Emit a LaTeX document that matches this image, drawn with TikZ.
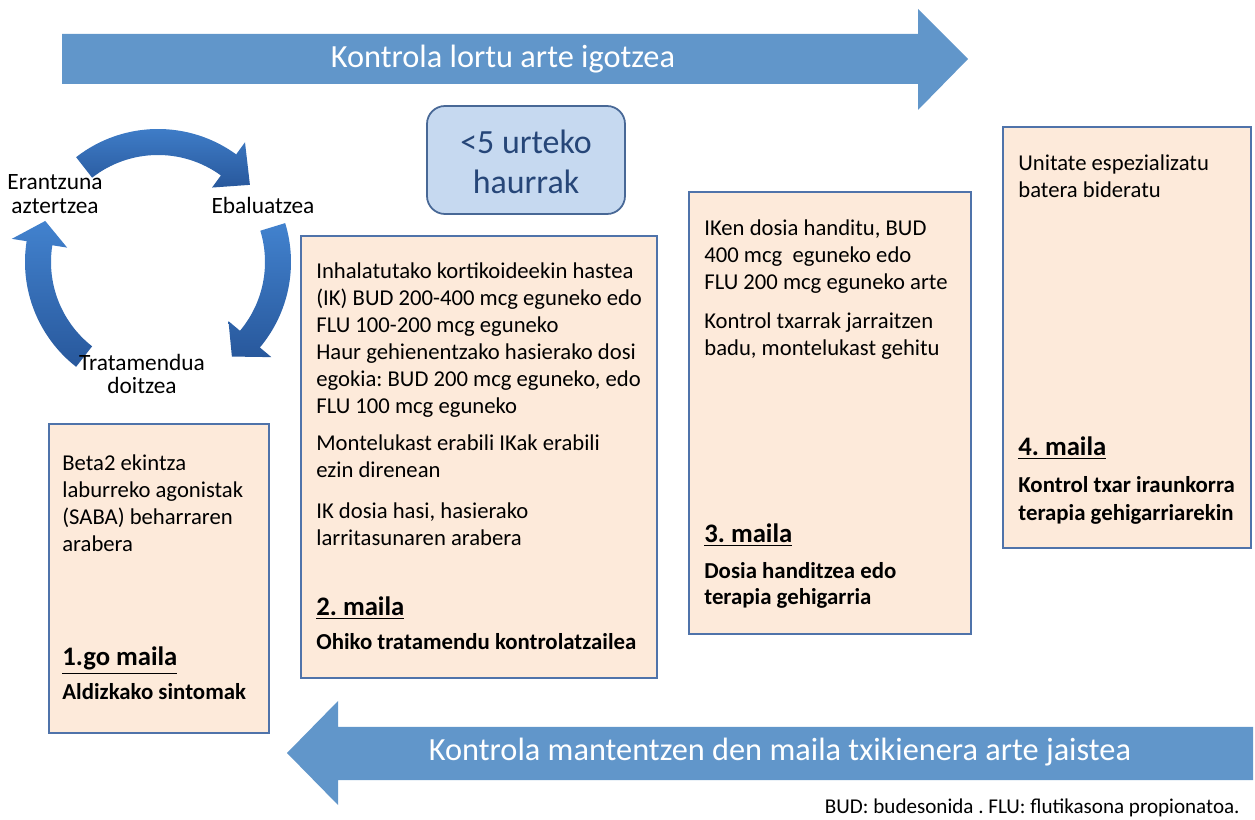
\documentclass[tikz,border=0pt]{standalone}
\usepackage{fontspec}
\setmainfont{Carlito}
\frenchspacing
\usetikzlibrary{positioning}

\definecolor{arrowblue}{RGB}{97,150,202}
\definecolor{boxfill}{RGB}{253,234,218}
\definecolor{boxline}{RGB}{79,115,170}
\definecolor{capsfill}{RGB}{198,217,240}
\definecolor{capsline}{RGB}{72,104,150}
\definecolor{capstext}{RGB}{38,70,120}
\definecolor{cyclight}{RGB}{66,130,206}
\definecolor{cycdark}{RGB}{40,88,156}

\tikzset{
  mailabox/.style={draw=boxline, fill=boxfill, line width=1pt},
  bodytxt/.style={anchor=base west, align=left, inner sep=0pt, font=\fontsize{12.9}{15.45}\selectfont},
  mailatitle/.style={anchor=base west, inner sep=0pt, font=\fontsize{15.2}{18}\selectfont\bfseries},
  mailasub/.style={anchor=base west, align=left, inner sep=0pt, font=\fontsize{13}{14.8}\selectfont\bfseries},
  bandtxt/.style={text=white, inner sep=0pt, font=\fontsize{18.4}{22}\selectfont},
  cyctxt/.style={align=center, inner sep=0pt, font=\fontsize{13.3}{13.4}\selectfont},
}

% curved arrow of the cycle: start angle, head base angle, tip angle
\newcommand{\cycarrow}[3]{%
  \shade[top color=cyclight, bottom color=cycdark]
    (#1:133) arc[start angle=#1, end angle=#2, radius=133] -- (#2:148) -- (#3:120)
    -- (#2:92) -- (#2:107) arc[start angle=#2, end angle=#1, radius=107] -- cycle;}

\begin{document}
\begin{tikzpicture}[x=0.02cm, y=-0.02cm]
    \useasboundingbox (0,0) rectangle (1255,820);

    % top band arrow
    \fill[arrowblue] (62,34) -- (918,34) -- (918,9) -- (968,59) -- (918,110) -- (918,84) -- (62,84) -- cycle;
    \node[bandtxt] (igo) at (503,59) {Kontrola lortu arte igotzea};

    % bottom band arrow
    \fill[arrowblue] (1253,727) -- (338,727) -- (338,701) -- (287,753) -- (338,805) -- (338,780) -- (1253,780) -- cycle;
    \node[bandtxt] (jaitsi) at (780,752) {Kontrola mantentzen den maila txikienera arte jaistea};

    % cycle of three curved arrows
    \begin{scope}[shift={(158,262)}, y=0.02cm]
      \cycarrow{128}{54}{40}
      \cycarrow{17}{-40}{-52}
      \cycarrow{232}{171}{160}
    \end{scope}
    \node[cyctxt] (ebal) at (263,205) {Ebaluatzea};
    \node[cyctxt] (trat) at (142,374) {Tratamendua\\doitzea};
    \node[cyctxt] (eran) at (55,194) {Erantzuna\\aztertzea};

    % age box
    \draw[draw=capsline, fill=capsfill, line width=1pt, rounded corners=0.36cm] (427,106) rectangle (625,214);
    \node[text=capstext, align=center, inner sep=0pt, font=\fontsize{19.3}{23}\selectfont] (adina) at (526,162) {<5 urteko\\haurrak};

    % step 1 (base of a text = its last line)
    \draw[mailabox] (49,424) rectangle (269,733);
    \node[bodytxt] (m1a) at (62,552) {Beta2 ekintza\\laburreko agonistak\\(SABA) beharraren\\arabera};
    \node[mailatitle] (m1t) at (62,666) {\underline{1.go maila}};
    \node[mailasub] (m1s) at (62,700) {Aldizkako sintomak};

    % step 2
    \draw[mailabox] (301,236) rectangle (657,678);
    \node[bodytxt] (m2a) at (316,414) {Inhalatutako kortikoideekin hastea\\(IK) BUD 200-400 mcg eguneko edo\\FLU 100-200 mcg eguneko\\Haur gehienentzako hasierako dosi\\egokia: BUD 200 mcg eguneko, edo\\FLU 100 mcg eguneko};
    \node[bodytxt] (m2b) at (316,478) {Montelukast erabili IKak erabili\\ezin direnean};
    \node[bodytxt] (m2c) at (316,546) {IK dosia hasi, hasierako\\larritasunaren arabera};
    \node[mailatitle] (m2t) at (316,616) {\underline{2. maila}};
    \node[mailasub] (m2s) at (316,650) {Ohiko tratamendu kontrolatzailea};

    % step 3
    \draw[mailabox] (689,192) rectangle (971,634);
    \node[bodytxt] (m3a) at (704,290) {IKen dosia handitu, BUD\\400 mcg~ eguneko edo\\FLU 200 mcg eguneko arte};
    \node[bodytxt] (m3b) at (704,356) {Kontrol txarrak jarraitzen\\badu, montelukast gehitu};
    \node[mailatitle] (m3t) at (704,543) {\underline{3. maila}};
    \node[mailasub] (m3s) at (704,605) {Dosia handitzea edo\\terapia gehigarria};

    % step 4
    \draw[mailabox] (1003,127) rectangle (1251,548);
    \node[bodytxt] (m4a) at (1018,198) {Unitate espezializatu\\batera bideratu};
    \node[mailatitle] (m4t) at (1018,456) {\underline{4. maila}};
    \node[mailasub, font=\fontsize{13}{16}\selectfont\bfseries] (m4s) at (1018,521) {Kontrol txar iraunkorra\\terapia gehigarriarekin};

    % footnote
    \node[anchor=east, inner sep=0pt, font=\fontsize{12}{14}\selectfont] (oharra) at (1240,808) {BUD: budesonida . FLU: flutikasona propionatoa.};
\end{tikzpicture}
\end{document}
